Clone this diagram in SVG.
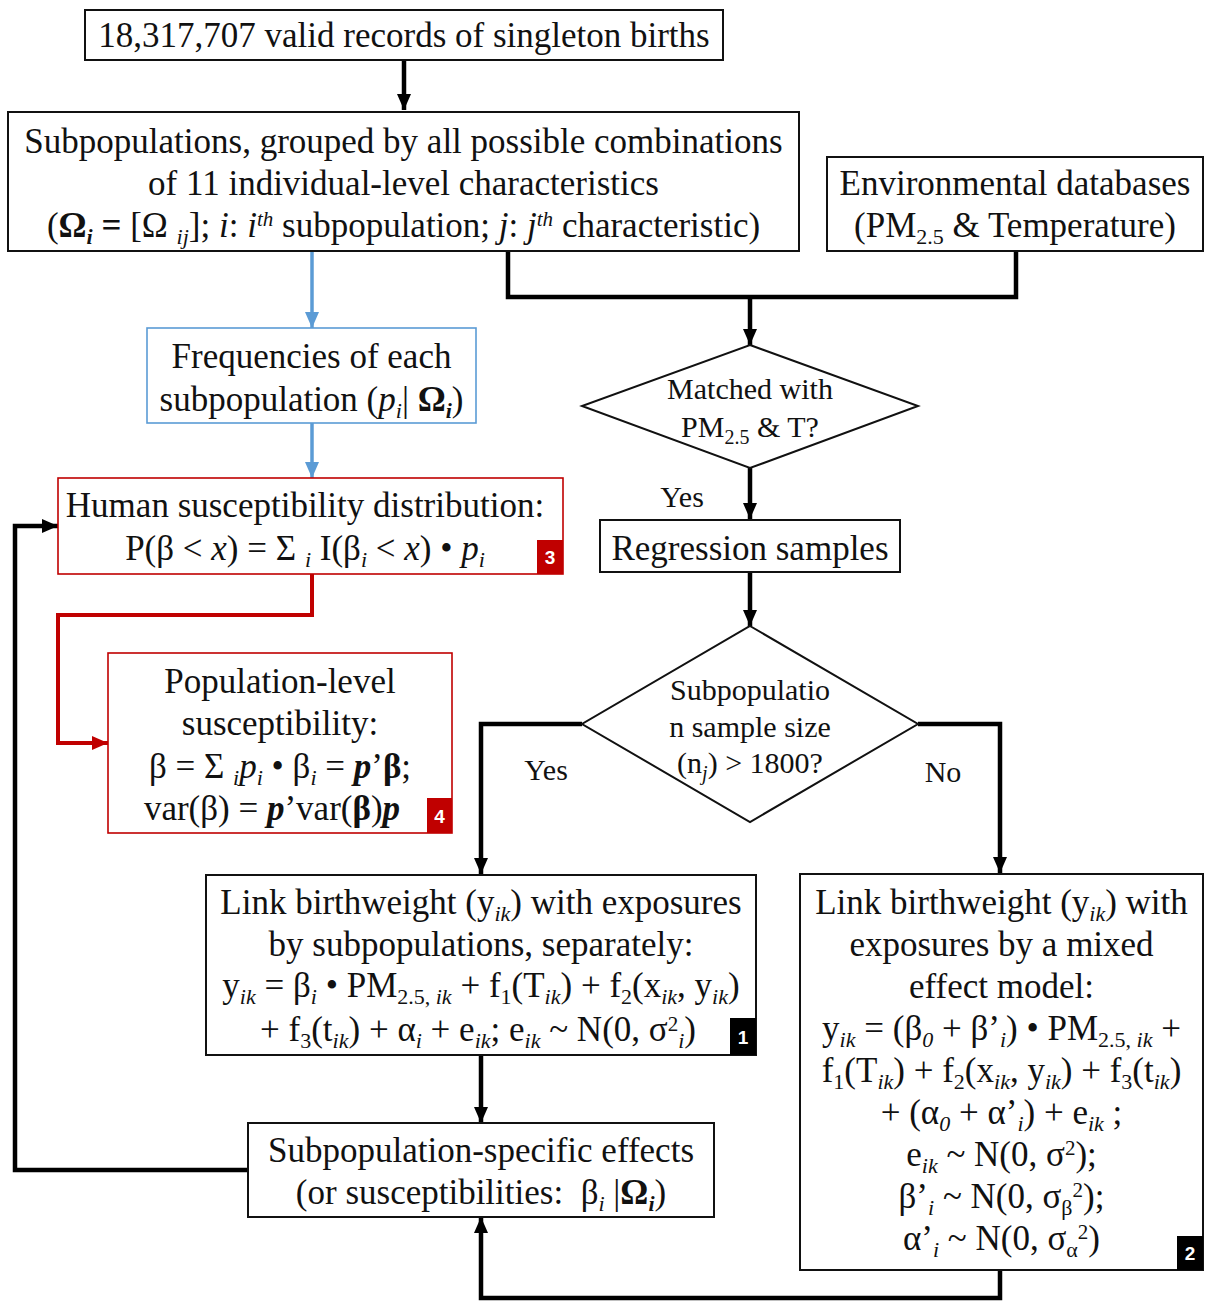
<svg xmlns="http://www.w3.org/2000/svg" width="1206" height="1302" viewBox="0 0 1206 1302">
<defs>
<marker id="ak" viewBox="0 0 16 14" refX="16" refY="7" markerWidth="16" markerHeight="14" orient="auto" markerUnits="userSpaceOnUse"><path d="M0,0 L16,7 L0,14 z" fill="#000"/></marker>
<marker id="ab" viewBox="0 0 16 14" refX="16" refY="7" markerWidth="16" markerHeight="14" orient="auto" markerUnits="userSpaceOnUse"><path d="M0,0 L16,7 L0,14 z" fill="#5B9BD5"/></marker>
<marker id="ar" viewBox="0 0 16 14" refX="16" refY="7" markerWidth="16" markerHeight="14" orient="auto" markerUnits="userSpaceOnUse"><path d="M0,0 L16,7 L0,14 z" fill="#C00000"/></marker>
</defs>
<style>
text{font-family:"Liberation Serif","Times New Roman",serif;fill:#111;text-anchor:middle}
.t{font-size:35px}
.d{font-size:30px}
.it{font-style:italic}
.b{font-weight:bold}
.sb{font-size:22px;baseline-shift:-7px}
.sp{font-size:21px;baseline-shift:11px}
.bx{fill:#fff;stroke:#111;stroke-width:2}
.bl{fill:#fff;stroke:#5B9BD5;stroke-width:1.6}
.rd{fill:#fff;stroke:#C00000;stroke-width:1.6}
.k{fill:none;stroke:#000;stroke-width:4.5}
.kb{fill:none;stroke:#5B9BD5;stroke-width:3.5}
.kr{fill:none;stroke:#C00000;stroke-width:4}
.badge{font-family:"Liberation Sans",Arial,sans-serif;font-weight:bold;font-size:19px;fill:#fff}
</style>

<g id="connectors">
<line class="k" x1="404" y1="60" x2="404" y2="110" marker-end="url(#ak)"/>
<polyline class="k" points="508,251 508,297 1016,297 1016,251"/>
<line class="k" x1="750" y1="297" x2="750" y2="345" marker-end="url(#ak)"/>
<line class="k" x1="750" y1="468" x2="750" y2="519" marker-end="url(#ak)"/>
<line class="k" x1="750" y1="572" x2="750" y2="626" marker-end="url(#ak)"/>
<polyline class="k" points="582,724 481,724 481,874" marker-end="url(#ak)"/>
<polyline class="k" points="918,724 1000,724 1000,873" marker-end="url(#ak)"/>
<line class="k" x1="481" y1="1055" x2="481" y2="1123" marker-end="url(#ak)"/>
<polyline class="k" points="248,1170 15,1170 15,526 58,526" marker-end="url(#ak)"/>
<polyline class="k" points="1000,1270 1000,1298 481,1298 481,1217" marker-end="url(#ak)"/>
<line class="kb" x1="312" y1="251" x2="312" y2="328" marker-end="url(#ab)"/>
<line class="kb" x1="312" y1="423" x2="312" y2="478" marker-end="url(#ab)"/>
<polyline class="kr" points="312,574 312,615 58,615 58,743 108,743" marker-end="url(#ar)"/>
<text class="d" x="682" y="507">Yes</text>
<text class="d" x="546" y="780">Yes</text>
<text class="d" x="943" y="782">No</text>
</g>

<g id="records">
<rect class="bx" x="85" y="10" width="638" height="50"/>
<text class="t" x="404" y="47">18,317,707 valid records of singleton births</text>
</g>

<g id="subpopulations">
<rect class="bx" x="8" y="112" width="791" height="139"/>
<text class="t" x="403.5" y="153">Subpopulations, grouped by all possible combinations</text>
<text class="t" x="403.5" y="195">of 11 individual-level characteristics</text>
<text class="t" x="403.5" y="237">(<tspan class="b">Ω</tspan><tspan class="b it sb">i</tspan><tspan class="b"> = </tspan>[Ω <tspan class="it sb">ij</tspan>]; <tspan class="it">i</tspan>: <tspan class="it">i</tspan><tspan class="it sp">th</tspan> subpopulation; <tspan class="it">j</tspan>: <tspan class="it">j</tspan><tspan class="it sp">th</tspan> characteristic)</text>
</g>

<g id="environmental">
<rect class="bx" x="827" y="157" width="376" height="94"/>
<text class="t" x="1015" y="195">Environmental databases</text>
<text class="t" x="1015" y="237">(PM<tspan class="sb">2.5</tspan> &amp; Temperature)</text>
</g>

<g id="frequencies">
<rect class="bl" x="147" y="328" width="329" height="95"/>
<text class="t" x="311.5" y="368">Frequencies of each</text>
<text class="t" x="311.5" y="411">subpopulation (<tspan class="it">p</tspan><tspan class="it sb">i</tspan>| <tspan class="b">Ω</tspan><tspan class="b it sb">i</tspan>)</text>
</g>

<g id="human-distribution">
<rect class="rd" x="58" y="478" width="505" height="96"/>
<text class="t" x="305" y="517">Human susceptibility distribution:</text>
<text class="t" x="305" y="560">P(β &lt; <tspan class="it">x</tspan>) = Σ <tspan class="it sb">i</tspan> I(β<tspan class="it sb">i</tspan> &lt; <tspan class="it">x</tspan>) • <tspan class="it">p</tspan><tspan class="it sb">i</tspan></text>
<rect x="537" y="540" width="26" height="34" fill="#C00000"/>
<text class="badge" x="550" y="564">3</text>
</g>

<g id="population-level">
<rect class="rd" x="108" y="653" width="344" height="180"/>
<text class="t" x="280" y="693">Population-level</text>
<text class="t" x="280" y="735">susceptibility:</text>
<text class="t" x="280" y="778">β = Σ <tspan class="it sb">i</tspan><tspan class="it">p</tspan><tspan class="it sb">i</tspan> • β<tspan class="it sb">i</tspan> = <tspan class="b it">p</tspan>’<tspan class="b">β</tspan>;</text>
<text class="t" x="272" y="820">var(β) = <tspan class="b it">p</tspan>’var(<tspan class="b">β</tspan>)<tspan class="b it">p</tspan></text>
<rect x="427" y="798" width="25" height="35" fill="#C00000"/>
<text class="badge" x="439.5" y="823">4</text>
</g>

<g id="matched">
<polygon class="bx" points="750,345 918,406 750,468 582,406"/>
<text class="d" x="750" y="399">Matched with</text>
<text class="d" x="750" y="437">PM<tspan class="sb" style="font-size:20px">2.5</tspan> &amp; T?</text>
</g>

<g id="regression">
<rect class="bx" x="600" y="520" width="300" height="52"/>
<text class="t" x="750" y="560">Regression samples</text>
</g>

<g id="sample-size">
<polygon class="bx" points="750,626 918,724 750,822 582,724"/>
<text class="d" x="750" y="700">Subpopulatio</text>
<text class="d" x="750" y="737">n sample size</text>
<text class="d" x="750" y="773">(n<tspan class="it sb" style="font-size:20px">j</tspan>) &gt; 1800?</text>
</g>

<g id="separate-model">
<rect class="bx" x="206" y="875" width="550" height="180"/>
<text class="t" x="481" y="914">Link birthweight (y<tspan class="it sb">ik</tspan>) with exposures</text>
<text class="t" x="481" y="956">by subpopulations, separately:</text>
<text class="t" x="481" y="997">y<tspan class="it sb">ik</tspan> = β<tspan class="it sb">i</tspan> • PM<tspan class="sb">2.5, <tspan class="it">ik</tspan></tspan> + f<tspan class="sb">1</tspan>(T<tspan class="it sb">ik</tspan>) + f<tspan class="sb">2</tspan>(x<tspan class="it sb">ik</tspan>, y<tspan class="it sb">ik</tspan>)</text>
<text class="t" x="478" y="1041">+ f<tspan class="sb">3</tspan>(t<tspan class="it sb">ik</tspan>) + α<tspan class="it sb">i</tspan> + e<tspan class="it sb">ik</tspan>; e<tspan class="it sb">ik</tspan> ~ N(0, σ<tspan class="sp" style="baseline-shift:10px">2</tspan><tspan class="it sb">i</tspan>)</text>
<rect x="730" y="1018" width="26" height="37" fill="#000"/>
<text class="badge" x="743" y="1044">1</text>
</g>

<g id="mixed-model">
<rect class="bx" x="800" y="874" width="403" height="396"/>
<text class="t" x="1001.5" y="914">Link birthweight (y<tspan class="it sb">ik</tspan>) with</text>
<text class="t" x="1001.5" y="956">exposures by a mixed</text>
<text class="t" x="1001.5" y="998">effect model:</text>
<text class="t" x="1001.5" y="1040">y<tspan class="it sb">ik</tspan> = (β<tspan class="it sb">0</tspan> + β’<tspan class="it sb">i</tspan>) • PM<tspan class="sb">2.5, <tspan class="it">ik</tspan></tspan> +</text>
<text class="t" x="1001.5" y="1082">f<tspan class="sb">1</tspan>(T<tspan class="it sb">ik</tspan>) + f<tspan class="sb">2</tspan>(x<tspan class="it sb">ik</tspan>, y<tspan class="it sb">ik</tspan>) + f<tspan class="sb">3</tspan>(t<tspan class="it sb">ik</tspan>)</text>
<text class="t" x="1001.5" y="1124">+ (α<tspan class="it sb">0</tspan> + α’<tspan class="it sb">i</tspan>) + e<tspan class="it sb">ik</tspan> ;</text>
<text class="t" x="1001.5" y="1166">e<tspan class="it sb">ik</tspan> ~ N(0, σ<tspan class="sp">2</tspan>);</text>
<text class="t" x="1001.5" y="1208">β’<tspan class="it sb">i</tspan> ~ N(0, σ<tspan class="sb">β</tspan><tspan class="sp">2</tspan>);</text>
<text class="t" x="1001.5" y="1250">α’<tspan class="it sb">i</tspan> ~ N(0, σ<tspan class="sb">α</tspan><tspan class="sp">2</tspan>)</text>
<rect x="1177" y="1236" width="26" height="34" fill="#000"/>
<text class="badge" x="1190" y="1260">2</text>
</g>

<g id="subpop-effects">
<rect class="bx" x="248" y="1123" width="466" height="94"/>
<text class="t" x="481" y="1162">Subpopulation-specific effects</text>
<text class="t" x="481" y="1204">(or susceptibilities:&#160; β<tspan class="it sb">i</tspan> |<tspan class="b">Ω</tspan><tspan class="b it sb">i</tspan>)</text>
</g>
</svg>
